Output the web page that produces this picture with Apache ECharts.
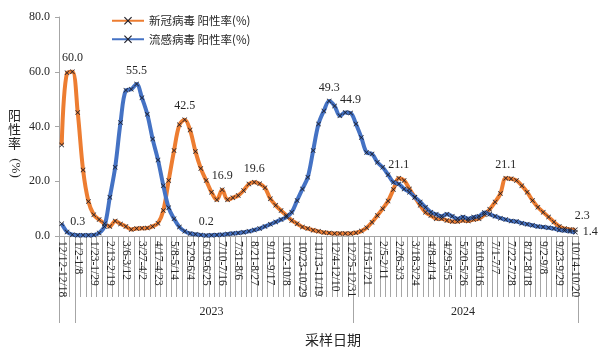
<!DOCTYPE html>
<html>
<head>
<meta charset="utf-8">
<script src="https://cdn.jsdelivr.net/npm/echarts@6/dist/echarts.min.js"></script>
<style>
    html, body { margin: 0; padding: 0; background: #fff; }
    #chart { width: 600px; height: 353px; }
</style>
</head>
<body>
<div id="chart"></div>
<script>
/*data*/
const weeks = [
    '12/12-12/18', '12/19-12/25', '12/26-1/1',
    '1/2-1/8', '1/9-1/15', '1/16-1/22', '1/23-1/29', '1/30-2/5', '2/6-2/12', '2/13-2/19', '2/20-2/26',
    '2/27-3/5', '3/6-3/12', '3/13-3/19', '3/20-3/26', '3/27-4/2', '4/3-4/9', '4/10-4/16', '4/17-4/23',
    '4/24-4/30', '5/1-5/7', '5/8-5/14', '5/15-5/21', '5/22-5/28', '5/29-6/4', '6/5-6/11', '6/12-6/18',
    '6/19-6/25', '6/26-7/2', '7/3-7/9', '7/10-7/16', '7/17-7/23', '7/24-7/30', '7/31-8/6', '8/7-8/13',
    '8/14-8/20', '8/21-8/27', '8/28-9/3', '9/4-9/10', '9/11-9/17', '9/18-9/24', '9/25-10/1', '10/2-10/8',
    '10/9-10/15', '10/16-10/22', '10/23-10/29', '10/30-11/5', '11/6-11/12', '11/13-11/19', '11/20-11/26',
    '11/27-12/3', '12/4-12/10', '12/11-12/17', '12/18-12/24', '12/25-12/31',
    '1/1-1/7', '1/8-1/14', '1/15-1/21', '1/22-1/28', '1/29-2/4', '2/5-2/11', '2/12-2/18', '2/19-2/25',
    '2/26-3/3', '3/4-3/10', '3/11-3/17', '3/18-3/24', '3/25-3/31', '4/1-4/7', '4/8-4/14', '4/15-4/21',
    '4/22-4/28', '4/29-5/5', '5/6-5/12', '5/13-5/19', '5/20-5/26', '5/27-6/2', '6/3-6/9', '6/10-6/16',
    '6/17-6/23', '6/24-6/30', '7/1-7/7', '7/8-7/14', '7/15-7/21', '7/22-7/28', '7/29-8/4', '8/5-8/11',
    '8/12-8/18', '8/19-8/25', '8/26-9/1', '9/2-9/8', '9/9-9/15', '9/16-9/22', '9/23-9/29', '9/30-10/6',
    '10/7-10/13', '10/14-10/20'
];

const covidRate = [
    33.2, 59.6, 60.0, 45.1, 24.1, 12.6, 7.8, 6.0, 4.5, 3.5,
    5.5, 4.4, 3.5, 2.4, 2.7, 2.8, 2.9, 3.5, 4.7, 9.3,
    20.3, 31.2, 40.6, 42.5, 38.7, 30.9, 24.7, 20.3, 16.0, 13.2,
    16.9, 13.2, 14.0, 14.8, 16.6, 19.0, 19.6, 19.1, 17.6, 13.6,
    11.2, 9.3, 7.5, 5.7, 4.5, 3.3, 2.7, 2.1, 1.7, 1.3,
    1.1, 0.9, 0.9, 0.9, 0.9, 1.2, 1.8, 3.0, 5.0, 7.5,
    10.0, 12.8, 17.0, 21.1, 20.3, 17.2, 14.2, 11.2, 8.7, 7.5,
    6.3, 6.3, 5.7, 5.3, 5.3, 5.7, 5.5, 6.0, 6.3, 7.8,
    9.8, 12.4, 15.5, 21.1, 20.9, 20.3, 18.4, 16.0, 13.0, 10.5,
    8.7, 6.9, 5.1, 3.5, 2.7, 2.4, 2.3
];

const fluRate = [
    4.5, 1.5, 0.5, 0.3, 0.3, 0.3, 0.4, 1.1, 3.5, 14.2,
    25.1, 41.5, 53.2, 53.6, 55.5, 50.5, 44.5, 35.4, 27.8, 18.4,
    10.3, 6.3, 3.3, 1.7, 0.9, 0.6, 0.4, 0.2, 0.3, 0.4,
    0.5, 0.7, 0.9, 1.1, 1.4, 1.7, 2.2, 2.7, 3.5, 4.3,
    5.1, 6.0, 6.9, 8.7, 13.0, 17.2, 21.5, 31.2, 40.9, 45.7,
    49.3, 47.5, 43.9, 45.1, 44.9, 40.9, 36.0, 30.5, 30.0, 26.9,
    25.1, 22.4, 19.6, 19.0, 17.2, 16.0, 14.2, 12.4, 10.5, 8.7,
    7.9, 7.2, 7.9, 7.2, 6.3, 6.9, 6.3, 6.9, 7.2, 8.6,
    7.9, 7.2, 6.5, 6.0, 5.5, 5.3, 4.7, 4.3, 3.9, 3.5,
    3.3, 3.0, 2.7, 2.2, 2.0, 1.7, 1.4
];

const covidLabelIdx = [2, 23, 30, 36, 63, 83, 96];
const fluLabelIdx = [3, 14, 27, 50, 54, 96];

const yearNames = ['2022', '2023', '2024'];
const yearStarts = [0, 3, 55];

const yMin = 0;
const yMax = 80;
const yStep = 20;

/*chart*/
(function () {
    const el = document.getElementById('chart');
    const chart = echarts.init(el, null, {renderer: 'canvas'});

    const serif = '"Liberation Serif", "Times New Roman", serif';
    const cjk = '"Noto Sans CJK SC", sans-serif';
    const crossMark = 'path://M0,1L1,0L5,4L9,0L10,1L6,5L10,9L9,10L5,6L1,10L0,9L4,5Z';
    const lastIdx = weeks.length - 1;
    const gray = '#a6a6a6';

    // year label sits in the middle of its group, tiny groups get none
    const yearMid = {};
    yearStarts.forEach(function (start, g) {
        const end = g + 1 < yearStarts.length ? yearStarts[g + 1] : weeks.length;
        if (end - start > 3) {
            yearMid[Math.floor((start + end - 1) / 2)] = yearNames[g];
        }
    });

    function withLabels(values, labelIdx, lastPos) {
        return values.map(function (v, i) {
            if (labelIdx.indexOf(i) < 0) return v;

            const label = {show: true, position: 'top', formatter: v.toFixed(1)};
            if (i === lastIdx) {
                label.position = lastPos;
                if (lastPos === 'top') label.offset = [7, 0];
            }
            return {value: v, label: label};
        });
    }

    function lineSeries(name, color, values, labelIdx, lastPos) {
        return {
            name: name,
            type: 'line',
            smooth: 0.35,
            symbol: crossMark,
            symbolSize: 5,
            showAllSymbol: true,
            lineStyle: {color: color, width: 4},
            itemStyle: {color: '#1e1e28'},
            label: {color: '#262626', fontFamily: serif, fontSize: 12, distance: 5},
            emphasis: {disabled: true},
            data: withLabels(values, labelIdx, lastPos)
        };
    }

    const option = {
        animation: false,
        grid: {left: 59, right: 22, top: 17, bottom: 117},
        legend: {
            orient: 'vertical',
            left: 106,
            top: 10,
            itemWidth: 32,
            itemHeight: 10,
            itemGap: 7,
            textStyle: {fontFamily: cjk, fontSize: 11.5, color: '#262626'},
            data: ['新冠病毒 阳性率(%)', '流感病毒 阳性率(%)']
        },
        xAxis: [
            {
                type: 'category',
                data: weeks,
                boundaryGap: true,
                axisLine: {show: true, lineStyle: {color: gray, width: 1}},
                axisTick: {show: true, interval: 0, length: 61, lineStyle: {color: gray, width: 1}},
                axisLabel: {
                    interval: 2,
                    rotate: -90,
                    margin: 5,
                    fontFamily: serif,
                    fontSize: 11.5,
                    color: '#262626'
                }
            },
            {
                type: 'category',
                data: weeks,
                position: 'bottom',
                offset: 61,
                boundaryGap: true,
                axisLine: {show: false},
                axisTick: {
                    show: true,
                    length: 26,
                    interval: function (i) { return yearStarts.indexOf(i) >= 0; },
                    lineStyle: {color: gray, width: 1}
                },
                axisLabel: {
                    interval: function (i) { return yearMid[i] !== undefined; },
                    formatter: function (v, i) { return yearMid[i] || ''; },
                    margin: 9,
                    fontFamily: serif,
                    fontSize: 12,
                    color: '#262626'
                }
            }
        ],
        yAxis: {
            type: 'value',
            min: yMin,
            max: yMax,
            interval: yStep,
            splitLine: {show: false},
            axisLine: {show: true, lineStyle: {color: gray}},
            axisTick: {show: true, length: 4, lineStyle: {color: gray}},
            axisLabel: {
                margin: 9,
                fontFamily: serif,
                fontSize: 12,
                color: '#262626',
                formatter: function (v) { return v.toFixed(1); }
            }
        },
        graphic: [
            {
                type: 'text',
                left: 8,
                top: 108,
                style: {text: '阳\n性\n率', font: '13px ' + cjk, lineHeight: 14, fill: '#262626'}
            },
            {
                type: 'text',
                x: 15,
                y: 168,
                rotation: -Math.PI / 2,
                style: {text: '(%)', font: '13px ' + serif, align: 'center', verticalAlign: 'middle', fill: '#262626'}
            },
            {
                type: 'text',
                x: 333,
                y: 340,
                style: {text: '采样日期', font: '14px ' + cjk, align: 'center', verticalAlign: 'middle', fill: '#262626'}
            }
        ],
        series: [
            lineSeries('新冠病毒 阳性率(%)', '#ed7d31', covidRate, covidLabelIdx, 'top'),
            lineSeries('流感病毒 阳性率(%)', '#4472c4', fluRate, fluLabelIdx, 'right')
        ]
    };

    chart.setOption(option);

    window.addEventListener('resize', chart.resize.bind(chart));
})();
</script>
</body>
</html>
